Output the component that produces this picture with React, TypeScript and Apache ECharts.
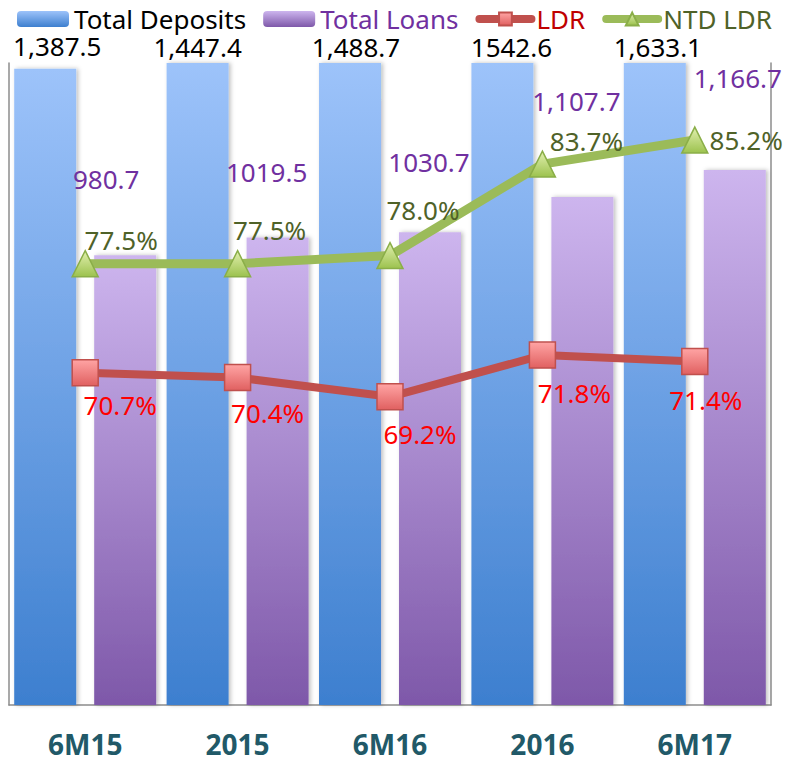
import React, { useEffect, useRef } from "react";
import * as echarts from "echarts";

const categories = ["6M15", "2015", "6M16", "2016", "6M17"];
const totalDeposits = [1387.5, 1447.4, 1488.7, 1542.6, 1633.1];
const totalLoans = [980.7, 1019.5, 1030.7, 1107.7, 1166.7];
const ldr = [70.7, 70.4, 69.2, 71.8, 71.4];
const ntdLdr = [77.5, 77.5, 78.0, 83.7, 85.2];
const depositLabels = ["1,387.5", "1,447.4", "1,488.7", "1542.6", "1,633.1"];
const loanLabels = ["980.7", "1019.5", "1030.7", "1,107.7", "1,166.7"];

// label nudges (style only)
const depositLabelNudge = [[12, -6], [0, 1], [6, 1], [9, 1], [3, 1]];
const loanLabelNudge = [[-19, -58], [-11, -47], [-1, -52], [-6, -78], [3, -74]];
const ldrLabelNudge = [[35, 0], [30, 4], [30, 5], [32, 6], [11, 7]];
const ntdLabelNudge = [[36, 8], [32, -2], [33, -14], [44, 9], [-4, 0]];

const FONT = "Noto Sans";

export default function App() {
  const ref = useRef<HTMLDivElement>(null);
  useEffect(() => {
    if (!ref.current) return;
    const chart = echarts.init(ref.current, null, { renderer: "svg" });
    const depGrad = new echarts.graphic.LinearGradient(0, 0, 0, 1, [
      { offset: 0, color: "#9DC3FA" },
      { offset: 1, color: "#3D7FCF" },
    ]);
    const loanGrad = new echarts.graphic.LinearGradient(0, 0, 0, 1, [
      { offset: 0, color: "#CDB5EE" },
      { offset: 1, color: "#7E58A9" },
    ]);
    const sqGrad = new echarts.graphic.LinearGradient(0, 0, 0, 1, [
      { offset: 0, color: "#FFA4A4" },
      { offset: 1, color: "#E06060" },
    ]);
    const triGrad = new echarts.graphic.LinearGradient(0, 0, 0, 1, [
      { offset: 0, color: "#E2F0B0" },
      { offset: 1, color: "#9CC24E" },
    ]);
    const shadow = {
      shadowBlur: 4,
      shadowOffsetX: 2,
      shadowColor: "rgba(0,0,0,0.25)",
    };
    chart.setOption({
      animation: false,
      textStyle: { fontFamily: FONT },
      legend: {
        left: 12,
        top: 1,
        width: 776,
        itemWidth: 52,
        itemHeight: 16,
        itemGap: 17,
        textStyle: { fontSize: 26, fontFamily: FONT },
        data: [
          { name: "Total Deposits", textStyle: { color: "#000000" } },
          { name: "Total Loans", textStyle: { color: "#7030A0" } },
          {
            name: "LDR",
            textStyle: { color: "#C00000" },
            lineStyle: { width: 8, color: "#C0504D", cap: "round" },
          },
          {
            name: "NTD LDR",
            textStyle: { color: "#4F6228" },
            lineStyle: { width: 8, color: "#9BBB59", cap: "round" },
          },
        ],
      },
      grid: { left: 9, right: 17, top: 63, bottom: 58 },
      xAxis: {
        type: "category",
        data: categories,
        axisLine: { show: true, lineStyle: { color: "#8C8C8C", width: 1.5 } },
        axisTick: { show: false },
        axisLabel: {
          margin: 25,
          fontSize: 28,
          fontWeight: "bold",
          color: "#215968",
          fontFamily: FONT,
        },
      },
      yAxis: [
        {
          type: "value",
          min: 0,
          max: 1400,
          axisLine: { show: true, lineStyle: { color: "#8C8C8C", width: 1.5 } },
          axisTick: { show: false },
          axisLabel: { show: false },
          splitLine: { show: false },
        },
        {
          type: "value",
          min: 50,
          max: 90,
          axisLine: { show: true, lineStyle: { color: "#8C8C8C", width: 1.5 } },
          axisTick: { show: false },
          axisLabel: { show: false },
          splitLine: { show: false },
        },
      ],
      series: [
        {
          name: "Total Deposits",
          type: "bar",
          yAxisIndex: 0,
          barWidth: 62,
          barGap: "29%",
          itemStyle: { color: depGrad, ...shadow },
          data: totalDeposits.map((v, i) => ({
            value: v,
            label: {
              show: true,
              position: "top",
              distance: 4,
              offset: depositLabelNudge[i],
              formatter: depositLabels[i],
              color: "#000000",
              fontSize: 26,
              fontFamily: FONT,
            },
          })),
          z: 2,
        },
        {
          name: "Total Loans",
          type: "bar",
          yAxisIndex: 0,
          barWidth: 62,
          barGap: "29%",
          itemStyle: { color: loanGrad, ...shadow },
          data: totalLoans.map((v, i) => ({
            value: v,
            label: {
              show: true,
              position: "top",
              distance: 5,
              offset: loanLabelNudge[i],
              formatter: loanLabels[i],
              color: "#7030A0",
              fontSize: 26,
              fontFamily: FONT,
            },
          })),
          z: 2,
        },
        {
          name: "LDR",
          type: "line",
          yAxisIndex: 1,
          symbol: "rect",
          symbolSize: 26,
          lineStyle: { color: "#C0504D", width: 8 },
          itemStyle: { color: sqGrad, borderColor: "#C0504D", borderWidth: 1.5 },
          data: ldr.map((v, i) => ({
            value: v,
            label: {
              show: true,
              position: "bottom",
              distance: 5,
              offset: ldrLabelNudge[i],
              formatter: v.toFixed(1) + "%",
              color: "#FF0000",
              fontSize: 26,
              fontFamily: FONT,
            },
          })),
          z: 5,
        },
        {
          name: "NTD LDR",
          type: "line",
          yAxisIndex: 1,
          symbol: "triangle",
          symbolSize: 26,
          lineStyle: { color: "#9BBB59", width: 9 },
          itemStyle: { color: triGrad, borderColor: "#8AAE48", borderWidth: 1.5 },
          data: ntdLdr.map((v, i) => ({
            value: v,
            label: {
              show: true,
              position: i === ntdLdr.length - 1 ? "right" : "top",
              distance: 5,
              offset: ntdLabelNudge[i],
              formatter: v.toFixed(1) + "%",
              color: "#4F6228",
              fontSize: 26,
              fontFamily: FONT,
            },
          })),
          z: 5,
        },
      ],
    });
    return () => chart.dispose();
  }, []);
  return (
    <div
      ref={ref}
      style={{ position: "absolute", left: 0, top: 0, width: 788, height: 763 }}
    />
  );
}
